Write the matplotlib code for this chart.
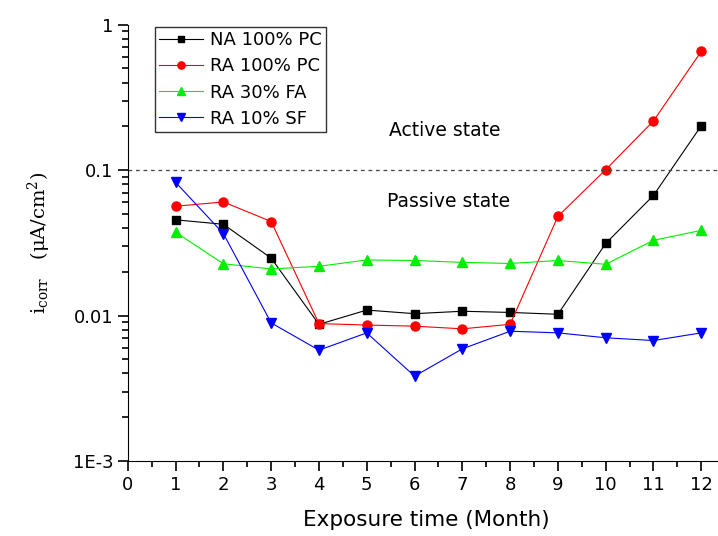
import matplotlib.pyplot as plt
import numpy as np
from matplotlib.ticker import LogLocator, FixedLocator, NullFormatter

# Data
months = [1, 2, 3, 4, 5, 6, 7, 8, 9, 10, 11, 12]
na_100_pc = [0.0455, 0.0424, 0.0248, 0.0087, 0.0109, 0.0103, 0.0107, 0.0105, 0.0102, 0.0313, 0.0670, 0.202]
ra_100_pc = [0.0564, 0.0604, 0.0443, 0.0088, 0.0086, 0.00845, 0.0081, 0.0087, 0.0481, 0.1006, 0.218, 0.655]
ra_30_fa = [0.0374, 0.0227, 0.0209, 0.0218, 0.0241, 0.0239, 0.0232, 0.0228, 0.0239, 0.0225, 0.0329, 0.0385]
ra_10_sf = [0.0824, 0.0366, 0.0089, 0.00578, 0.0076, 0.00383, 0.0059, 0.0078, 0.0076, 0.00703, 0.00673, 0.0076]
threshold = 0.1

plt.rcParams['font.family'] = 'DejaVu Sans'

fig = plt.figure(figsize=(7.18, 5.36), dpi=100)
ax = fig.add_axes([0.178, 0.140, 0.832, 0.814])

ax.plot(months, na_100_pc, color='black', marker='s', ms=6, lw=0.8, label='NA 100% PC')
ax.plot(months, ra_100_pc, color='red', marker='o', ms=6.5, lw=0.8, label='RA 100% PC')
ax.plot(months, ra_30_fa, color='#00ee00', marker='^', ms=7.5, lw=0.8, label='RA 30% FA')
ax.plot(months, ra_10_sf, color='blue', marker='v', ms=7.5, lw=0.8, label='RA 10% SF')

# passive / active boundary
ax.axhline(threshold, color='#444444', lw=0.9, ls=(0, (3, 3)))
ax.text(5.47, 0.187, 'Active state', fontsize=13.5, va='center')
ax.text(5.43, 0.061, 'Passive state', fontsize=13.5, va='center')

ax.set_yscale('log')
ax.set_ylim(1e-3, 1)
ax.set_xlim(0, 12.5)
ax.set_xticks(range(0, 13))
ax.xaxis.set_minor_locator(FixedLocator(np.arange(0.5, 12.5, 1)))
ax.yaxis.set_major_locator(FixedLocator([1e-3, 1e-2, 1e-1, 1]))
ax.yaxis.set_minor_locator(LogLocator(base=10, subs=np.arange(2, 10)))
ax.yaxis.set_minor_formatter(NullFormatter())
ax.set_yticklabels(['1E-3', '0.01', '0.1', '1'])

ax.spines['top'].set_visible(False)
ax.spines['right'].set_visible(False)
ax.tick_params(which='major', direction='out', length=7, width=1.2, labelsize=13)
ax.tick_params(which='minor', direction='out', length=4, width=1.2)

ax.set_xlabel('Exposure time (Month)', fontsize=15.5, labelpad=12)
ax.set_ylabel(r'$\mathregular{i_{corr}}$   ($\mathregular{\mu A/cm^2}$)', fontsize=14,
              family='DejaVu Serif', labelpad=14)

leg = ax.legend(loc='upper left', bbox_to_anchor=(0.045, 0.995), fontsize=13,
                frameon=True, fancybox=False, edgecolor='black', borderaxespad=0,
                handlelength=2.4, handletextpad=0.4, labelspacing=0.45, borderpad=0.25,
                markerscale=0.8)
leg.get_frame().set_linewidth(1)

fig.savefig('out.png', dpi=100)
